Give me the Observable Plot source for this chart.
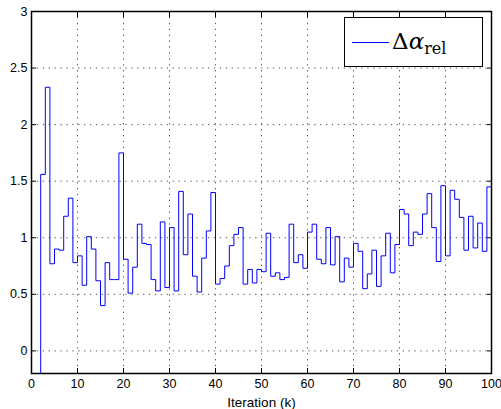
<!DOCTYPE html>
<html>
<head>
<meta charset="utf-8">
<script src="https://cdn.jsdelivr.net/npm/d3@7"></script>
<script src="https://cdn.jsdelivr.net/npm/@observablehq/plot@0.6"></script>
<style>
  html, body { margin: 0; padding: 0; background: #fff; }
  #wrap { position: relative; width: 501px; height: 409px; overflow: hidden; }
  #legend {
    position: absolute; left: 344px; top: 17px; width: 139px; height: 50px;
    border: 1.2px solid #000; background: #fff; box-sizing: border-box;
  }
  #legend .swatch {
    position: absolute; left: 7px; top: 24px; width: 37px; height: 0;
    border-top: 1px solid #0000ff;
  }
  #legend .lbl {
    position: absolute; left: 47px; top: 9px; white-space: nowrap;
    font-family: "DejaVu Serif", "Liberation Serif", serif; font-size: 23px; line-height: 28px; color: #000;
  }
  #legend .lbl i { font-style: italic; }
  #legend .lbl sub { font-size: 16px; vertical-align: -5px; line-height: 0; }
</style>
</head>
<body>
<div id="wrap">
  <div id="chart"></div>
  <div id="legend"><div class="swatch"></div><div class="lbl">Δ<i>α</i><sub>rel</sub></div></div>
</div>
<script>
// Iteration index k = 1..100 and the relative step value
const iterations = d3.range(1, 101);
const deltaAlphaRel = [
  -1, 1.56, 2.33, 0.77, 0.90, 0.89, 1.19, 1.35, 0.78, 0.84,
  0.58, 1.01, 0.90, 0.62, 0.40, 0.78, 0.63, 0.63, 1.75, 0.81,
  0.51, 0.74, 1.12, 0.95, 0.94, 0.63, 0.53, 1.14, 0.56, 1.09,
  0.53, 1.41, 0.85, 1.21, 0.66, 0.52, 0.82, 1.06, 1.40, 0.59,
  0.64, 0.75, 0.93, 1.03, 1.09, 0.59, 0.72, 0.60, 0.72, 0.70,
  1.04, 0.66, 0.69, 0.63, 0.65, 1.12, 0.78, 0.85, 0.73, 1.05,
  1.12, 0.81, 0.77, 1.09, 0.76, 1.01, 0.61, 0.82, 0.74, 0.95,
  0.88, 0.55, 0.68, 0.89, 0.57, 0.84, 1.04, 0.69, 0.94, 1.25,
  1.21, 0.93, 1.05, 1.03, 1.21, 1.39, 1.09, 0.79, 1.46, 0.84,
  1.42, 1.34, 1.18, 0.89, 1.19, 0.91, 1.13, 0.88, 1.45, 1.17
];
const xTicks = [0, 10, 20, 30, 40, 50, 60, 70, 80, 90, 100];
const yTicks = [0, 0.5, 1, 1.5, 2, 2.5, 3];
const xLabel = "Iteration (k)";

const data = iterations.map((k, i) => ({k, v: deltaAlphaRel[i]}));

const gridStyle = {stroke: "#555", strokeOpacity: 1, strokeWidth: 1, strokeDasharray: "1.3,4.6"};

const chart = Plot.plot({
  width: 501,
  height: 409,
  marginLeft: 31,
  marginRight: 10,
  marginTop: 11,
  marginBottom: 36,
  style: {fontFamily: "'Liberation Sans', Arial, sans-serif", fontSize: "12.5px", background: "#fff", color: "#000"},
  x: {domain: [0, 100]},
  y: {domain: [-0.2, 3]},
  marks: [
    Plot.gridX(xTicks, gridStyle),
    Plot.gridY(yTicks, gridStyle),
    Plot.line(data, {x: "k", y: "v", curve: "step-after", stroke: "#0000ff", strokeWidth: 1, clip: true}),
    Plot.frame({stroke: "#000", strokeWidth: 1.5}),
    Plot.axisX(xTicks, {anchor: "bottom", tickSize: -5, tickPadding: 11, tickFormat: d3.format("~g"), label: null, fontSize: 12.5}),
    Plot.text([xLabel], {frameAnchor: "bottom", lineAnchor: "middle", dy: 29, fontSize: 13.5, fill: "#000"}),
    Plot.axisX(xTicks, {anchor: "top", tickSize: -5, tickFormat: () => "", label: null}),
    Plot.axisY(yTicks, {anchor: "left", tickSize: -5, tickPadding: 9, tickFormat: d3.format("~g"), label: null, fontSize: 12.5}),
    Plot.axisY(yTicks, {anchor: "right", tickSize: -5, tickFormat: () => "", label: null})
  ]
});
document.getElementById("chart").appendChild(chart);
</script>
</body>
</html>
